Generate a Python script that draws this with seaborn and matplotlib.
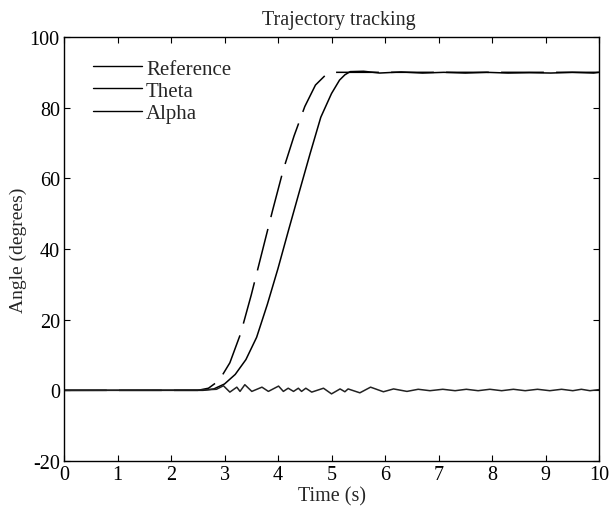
import numpy as np
import pandas as pd
import matplotlib
matplotlib.use("Agg")
import matplotlib.pyplot as plt
from matplotlib.lines import Line2D
import seaborn as sns

# Data
ref_t = [0, 2.5, 2.7, 2.9, 3.1, 3.3, 3.5, 3.7, 3.9, 4.1, 4.3, 4.5, 4.7, 4.9, 5.05, 10]
ref_deg = [0, 0, 0.6, 2.8, 7.8, 16.0, 27.0, 39.0, 51.0, 62.5, 72.0, 80.3, 86.4, 89.4, 90, 90]

theta_t = [0, 2.6, 2.8, 3.0, 3.2, 3.4, 3.6, 3.8, 4.0, 4.2, 4.4, 4.6, 4.8, 5.0, 5.15,
           5.25, 5.35, 5.6, 5.9, 6.3, 6.7, 7.1, 7.5, 7.9, 8.3, 8.7, 9.1, 9.5, 9.9, 10]
theta_deg = [0, 0, 0.4, 1.8, 4.5, 8.7, 15.0, 24.3, 34.5, 45.5, 56.3, 67.0, 77.3, 84.0, 87.8,
             89.3, 90.2, 90.3, 89.8, 90.1, 89.8, 90.0, 89.8, 90.0, 89.8, 89.9, 89.8, 90.0, 89.8, 90.0]

alpha_t = [0, 2.6, 2.85, 2.98, 3.10, 3.23, 3.29, 3.38, 3.51, 3.70, 3.82, 4.01, 4.10, 4.19,
           4.29, 4.38, 4.44, 4.52, 4.63, 4.85, 5.00, 5.16, 5.25, 5.31, 5.53, 5.73, 5.97,
           6.16, 6.41, 6.62, 6.84, 7.08, 7.31, 7.52, 7.74, 7.96, 8.18, 8.40, 8.62, 8.85,
           9.08, 9.30, 9.51, 9.67, 9.83, 10]
alpha_deg = [0, 0.1, 0.3, 1.3, -0.5, 0.9, -0.3, 1.6, -0.3, 0.9, -0.3, 1.2, -0.3, 0.6,
             -0.3, 0.6, -0.3, 0.6, -0.5, 0.6, -1.0, 0.4, -0.4, 0.4, -0.7, 0.9, -0.4,
             0.4, -0.3, 0.3, -0.1, 0.3, -0.1, 0.3, -0.1, 0.3, -0.1, 0.3, -0.1, 0.3,
             -0.1, 0.3, -0.1, 0.3, -0.1, 0.2]

sns.set_style("ticks")
plt.rcParams["font.family"] = ["Liberation Serif", "DejaVu Serif"]
plt.rcParams["axes.unicode_minus"] = False

fig = plt.figure(figsize=(6.09, 5.10), dpi=100)
ax = fig.add_axes([0.1051, 0.0941, 0.8785, 0.8314])

sns.lineplot(x=ref_t, y=ref_deg, ax=ax, color="black", linewidth=1.1,
             estimator=None, sort=False)
ax.lines[-1].set_dashes((28, 8))
sns.lineplot(x=theta_t, y=theta_deg, ax=ax, color="black", linewidth=1.1,
             estimator=None, sort=False)
sns.lineplot(x=alpha_t, y=alpha_deg, ax=ax, color="#222222", linewidth=1.1,
             estimator=None, sort=False)

ax.set_xlim(0, 10)
ax.set_ylim(-20, 100)
ax.set_xticks(range(0, 11))
ax.set_yticks(range(-20, 101, 20))
ax.tick_params(direction="in", length=4, width=0.8, top=True, right=True,
               labelsize=14.5, colors="black", pad=3)
for s in ax.spines.values():
    s.set_visible(True)
    s.set_linewidth(1.0)
    s.set_color("black")

ax.set_title("Trajectory tracking", fontsize=14.5, x=0.514, pad=9)
ax.set_xlabel("Time (s)", fontsize=14.5, labelpad=1.5)
ax.set_ylabel("Angle (degrees)", fontsize=14, labelpad=2)

handles = [Line2D([], [], color="black", linewidth=1.0) for _ in range(3)]
ax.legend(handles, ["Reference", "Theta", "Alpha"], loc="upper left",
          bbox_to_anchor=(0.054, 0.948), frameon=False, fontsize=15,
          handlelength=2.35, handletextpad=0.2, labelspacing=0.12,
          borderaxespad=0, borderpad=0)

fig.savefig("out.png", dpi=100)
